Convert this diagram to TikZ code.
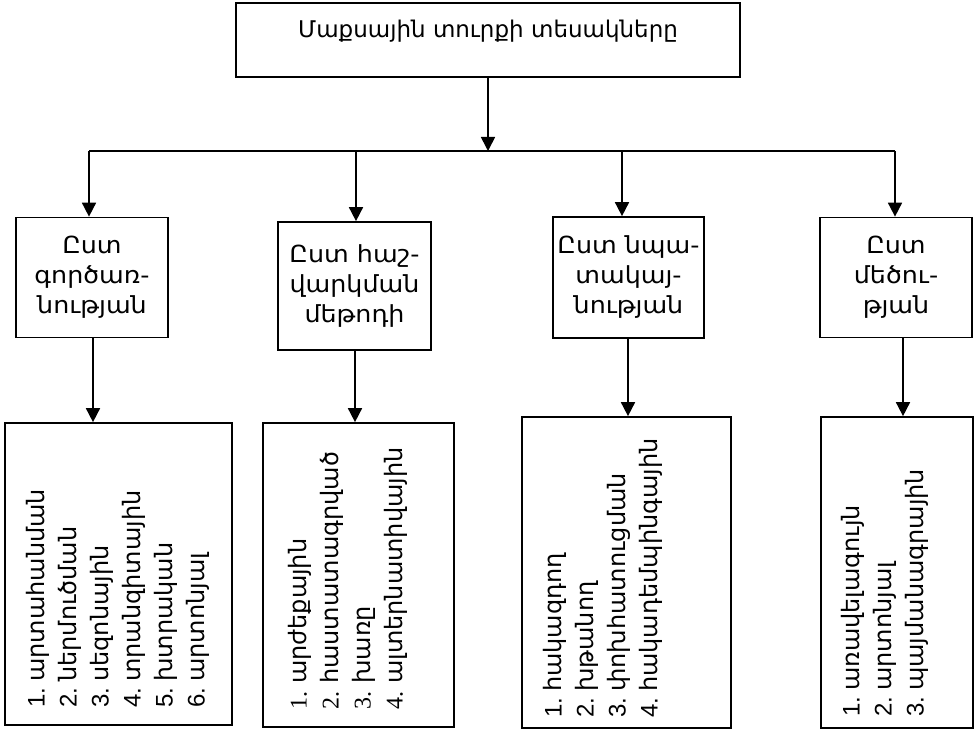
\documentclass[tikz,border=0pt]{standalone}
\usepackage{fontspec}
\setmainfont{DejaVu Sans}
\newfontfamily\headfont[FakeStretch=1.08]{DejaVu Sans}
\newfontfamily\numsans{Liberation Sans}
\newfontfamily\numserif{Liberation Serif}
\usetikzlibrary{arrows.meta}
\newcommand{\itm}[2]{\makebox[26pt][l]{#1}#2}
\begin{document}
\begin{tikzpicture}[x=1pt,y=-1pt,
  box/.style={draw, rectangle, inner sep=0pt, line width=1.7pt},
  arr/.style={-{Triangle[length=14pt,width=14pt]}, line width=1.7pt},
  ln/.style={line width=1.7pt},
  head/.style={font=\headfont\fontsize{23.5}{30}\selectfont, align=center},
  lst/.style={rotate=90, anchor=west, align=left, inner sep=0pt, font=\fontsize{24}{32}\selectfont}]
\useasboundingbox (0,0) rectangle (976,730);
% top box
\node[box, minimum width=504pt, text height=35pt, text depth=39pt, anchor=base,
      font=\fontsize{23}{28}\selectfont] (top) at (488,38) {Մաքսային տուրքի տեսակները};
\coordinate (j) at (488,151);
\coordinate (j1) at (89,151);
\coordinate (j2) at (356,151);
\coordinate (j3) at (622,151);
\coordinate (j4) at (895,151);
% second row
\node[box, head, minimum width=152pt, minimum height=120pt] (b1) at (92,277.5) {Ըստ\\գործառ-\\նության};
\node[box, head, minimum width=153pt, minimum height=128pt] (b2) at (354.5,286) {Ըստ հաշ-\\վարկման\\մեթոդի};
\node[box, head, minimum width=151pt, minimum height=121pt] (b3) at (628.5,277.5) {Ըստ նպա-\\տակայ-\\նության};
\node[box, head, minimum width=152pt, minimum height=120pt] (b4) at (896,277.5) {Ըստ\\մեծու-\\թյան};
% third row boxes
\node[box, minimum width=227pt, minimum height=302pt] (c1) at (118.5,574) {};
\node[box, minimum width=191pt, minimum height=304pt] (c2) at (358.5,575) {};
\node[box, minimum width=209pt, minimum height=311pt] (c3) at (626.5,572.5) {};
\node[box, minimum width=152pt, minimum height=311pt] (c4) at (897,572.5) {};
% third row texts
\node[lst] (t1) at (118,708) {\itm{\numsans 1.}{արտահանման}\\\itm{\numsans 2.}{ներմուծման}\\\itm{\numsans 3.}{սեզոնային}\\\itm{\numsans 4.}{տրանզիտային}\\\itm{\numsans 5.}{խտրական}\\\itm{\numsans 6.}{արտոնյալ}};
\node[lst] (t2) at (348,710) {\itm{\numserif 1.}{արժեքային}\\\itm{\numserif 2.}{հաստատագրված}\\\itm{\numserif 3.}{խառը}\\\itm{\numserif 4.}{ալտերնատիվային}};
\node[lst] (t3) at (603,718) {\itm{\numsans 1.}{հակազդող}\\\itm{\numsans 2.}{խթանող}\\\itm{\numsans 3.}{փոխհատուցման}\\\itm{\numsans 4.}{հակադեմպինգային}};
\node[lst] (t4) at (885,717) {\itm{\numsans 1.}{առավելագույն}\\\itm{\numsans 2.}{արտոնյալ}\\\itm{\numsans 3.}{պայմանագրային}};
% connectors
\draw[arr] (top.south) -- (j);
\draw[ln] (j1) -- (j4);
\draw[arr] (j1) -- (j1 |- b1.north);
\draw[arr] (j2) -- (j2 |- b2.north);
\draw[arr] (j3) -- (j3 |- b3.north);
\draw[arr] (j4) -- (j4 |- b4.north);
\coordinate (k1) at (93,0);
\coordinate (k2) at (355,0);
\coordinate (k3) at (628,0);
\coordinate (k4) at (903,0);
\draw[arr] (k1 |- b1.south) -- (k1 |- c1.north);
\draw[arr] (k2 |- b2.south) -- (k2 |- c2.north);
\draw[arr] (k3 |- b3.south) -- (k3 |- c3.north);
\draw[arr] (k4 |- b4.south) -- (k4 |- c4.north);
\end{tikzpicture}
\end{document}
